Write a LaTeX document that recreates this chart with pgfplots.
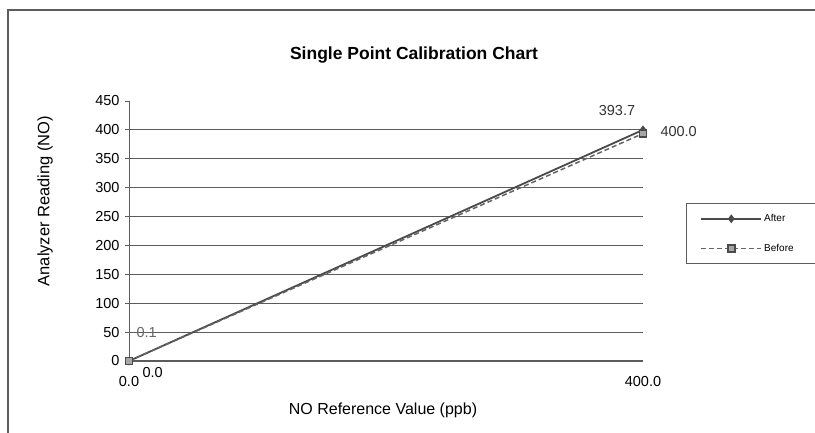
\documentclass[border=0pt]{standalone}
\usepackage{fontspec}
\setmainfont{Liberation Sans}
\usepackage{pgfplots}
\pgfplotsset{compat=1.18}
\definecolor{ln}{HTML}{4A4A4A}
\definecolor{gr}{HTML}{5C5C5C}
\begin{document}
\begin{tikzpicture}[x=1pt,y=1pt]
\useasboundingbox (0,0) rectangle (815,-433);
\draw[gr, line width=1.2pt] (8,-445) -- (8,-10) -- (830,-10);
\begin{axis}[at={(129pt,-361pt)}, anchor=south west, scale only axis,
  width=514pt, height=260pt,
  xmin=0, xmax=400, ymin=0, ymax=450,
  axis x line=bottom, axis y line=left,
  axis line style={-, gr, line width=1pt},
  xtick={0,400}, xticklabels={0.0,400.0},
  ytick={0,50,...,400}, extra y ticks={450}, extra y tick style={grid=none},
  /pgf/number format/assume math mode=true,
  tick label style={font=\fontsize{14.5}{16}\selectfont, black},
  x tick label style={yshift=-8pt},
  y tick label style={xshift=-2pt},
  xtick style={draw=none},
  ytick style={gr, line width=1pt},
  tick align=outside, major tick length=4pt,
  ymajorgrids, grid style={gr, line width=1.2pt},
  clip=false,
  legend style={draw=gr, line width=0.8pt, at={(1.0837,0.6077)}, anchor=north west,
    font=\fontsize{10}{12}\selectfont, inner xsep=14pt, inner ysep=9pt,
    row sep=17pt, cells={anchor=west}},
  legend image code/.code={\draw[mark repeat=2,mark phase=2,#1] plot coordinates {(0pt,0pt) (30pt,0pt) (60pt,0pt)};},
]
\addplot[ln, line width=1.8pt, mark=diamond*, mark size=3pt, mark options={solid, fill=ln}]
  coordinates {(0,0.0) (400,400.0)};
\addlegendentry{After}
\addplot[ln!85, line width=1.5pt, dash pattern=on 5pt off 3pt, mark=square*, mark size=3.5pt, mark options={solid, fill=gray!70, draw=ln}]
  coordinates {(0,0.1) (400,393.7)};
\addlegendentry{Before\hspace*{12pt}}
\node[anchor=west, font=\fontsize{14.5}{16}\selectfont, text=black] at (axis cs:0,0) [xshift=10pt, yshift=-12pt] {0.0};
\node[anchor=west, font=\fontsize{14.5}{16}\selectfont, text=gray!80!black] at (axis cs:0,0.1) [xshift=4pt, yshift=28pt] {0.1};
\node[anchor=west, font=\fontsize{14.5}{16}\selectfont, text=black!80] at (axis cs:400,400) [xshift=14pt, yshift=-2pt] {400.0};
\node[anchor=south, font=\fontsize{14.5}{16}\selectfont, text=black!80] at (axis cs:400,393.7) [xshift=-26pt, yshift=14pt] {393.7};
\end{axis}
\node[font=\bfseries\fontsize{17.5}{20}\selectfont] at (414,-55) {Single Point Calibration Chart};
\node[font=\fontsize{16}{18}\selectfont] at (383,-410) {NO Reference Value (ppb)};
\node[font=\fontsize{16.5}{18}\selectfont, rotate=90] at (45,-201) {Analyzer Reading (NO)};
\end{tikzpicture}
\end{document}
